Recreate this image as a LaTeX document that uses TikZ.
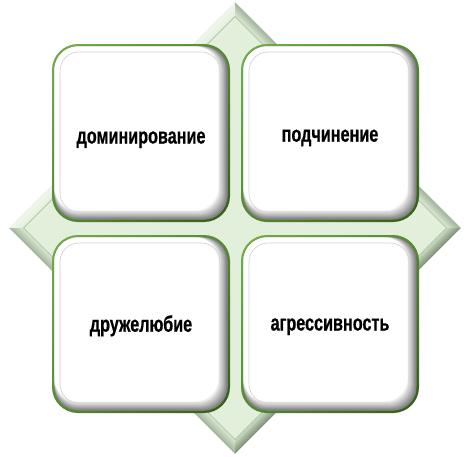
\documentclass[tikz,border=0pt]{standalone}
\usepackage{fontspec}
\usetikzlibrary{shadings}
\newfontfamily\labfont{Liberation Sans}[FakeStretch=0.72,BoldFeatures={FakeBold=0.6}]
\definecolor{dbase}{HTML}{E2EFDA}
\definecolor{ulouter}{HTML}{F2F8EE}
\definecolor{ulinner}{HTML}{E6F1E0}
\definecolor{urouter}{HTML}{A3B59C}
\definecolor{urinner}{HTML}{DAE8D2}
\definecolor{lrouter}{HTML}{84947E}
\definecolor{lrinner}{HTML}{C9DBC0}
\definecolor{diamline}{HTML}{A2B39A}
\definecolor{gA}{HTML}{74AE48}
\definecolor{gB}{HTML}{558B30}
\definecolor{gC}{HTML}{325E17}
\definecolor{bandC}{HTML}{808080}
\definecolor{inlineC}{HTML}{CFCFCF}
\tikzset{
  lab/.style={font={\labfont\bfseries\fontsize{22.5pt}{27pt}\selectfont}, text=black, inner sep=0pt, anchor=base},
  innerline/.style={draw=inlineC, line width=0.6pt}
}
\newcommand\quadbox[6]{% x0 y0 name text baseline-y
  \shade[upper left=gA, upper right=gB, lower left=gB, lower right=gC, rounded corners=26pt] (#1,#2) rectangle ++(178,178);
  \begin{scope}
    \clip[rounded corners=23.5pt] (#1+2.5,#2+2.5) rectangle (#1+175.5,#2+175.5);
    \fill[bandC] (#1,#2) rectangle (#1+178,#2+178);
    \foreach \i in {0,...,10}{
      \pgfmathsetmacro\q{100*\i/10}
      \fill[white!\q!bandC, rounded corners=23.5pt] (#1+2.5,#2+2.5) rectangle (#1+175.5-0.9*\i,#2+175.5-0.9*\i);
    }
  \end{scope}
  \draw[innerline, rounded corners=19pt] (#1+8,#2+8) rectangle (#1+168,#2+168);
  \node[lab] (#3) at (#1+89,#5) {#4};
}
\begin{document}
\begin{tikzpicture}[x=1pt,y=-1pt]
\useasboundingbox (0,0) rectangle (470,456);
\fill[white] (0,0) rectangle (470,456);
% diamond background with bevel
\def\cx{235}\def\cy{228}\def\hout{225.5}
\fill[urouter] (\cx-\hout,\cy) -- (\cx,\cy-\hout) -- (\cx+\hout,\cy) -- (\cx,\cy+\hout) -- cycle;
\foreach \k in {0,...,13}{
  \pgfmathsetmacro\p{100*\k/13}
  \pgfmathsetmacro\ha{\hout-\k}
  \pgfmathsetmacro\hb{\hout-\k-1.5}
  \fill[ulinner!\p!ulouter] (\cx-\ha,\cy) -- (\cx,\cy-\ha) -- (\cx,\cy-\hb) -- (\cx-\hb,\cy) -- cycle;
  \fill[urinner!\p!urouter] (\cx,\cy-\ha) -- (\cx+\ha,\cy) -- (\cx+\hb,\cy) -- (\cx,\cy-\hb) -- cycle;
  \fill[urinner!\p!urouter] (\cx-\ha,\cy) -- (\cx,\cy+\ha) -- (\cx,\cy+\hb) -- (\cx-\hb,\cy) -- cycle;
  \fill[lrinner!\p!lrouter] (\cx+\ha,\cy) -- (\cx,\cy+\ha) -- (\cx,\cy+\hb) -- (\cx+\hb,\cy) -- cycle;
}
\def\hin{211.5}
\fill[dbase] (\cx-\hin,\cy) -- (\cx,\cy-\hin) -- (\cx+\hin,\cy) -- (\cx,\cy+\hin) -- cycle;
\draw[diamline, line width=0.5pt] (\cx-\hin,\cy) -- (\cx,\cy-\hin) -- (\cx+\hin,\cy) -- (\cx,\cy+\hin) -- cycle;
% four boxes
\quadbox{52}{44}{dom}{доминирование}{143.5}{}
\quadbox{241}{44}{pod}{подчинение}{141.7}{}
\quadbox{52}{235}{dru}{дружелюбие}{331.7}{}
\quadbox{241}{235}{agr}{агрессивность}{330.5}{}
\end{tikzpicture}
\end{document}
